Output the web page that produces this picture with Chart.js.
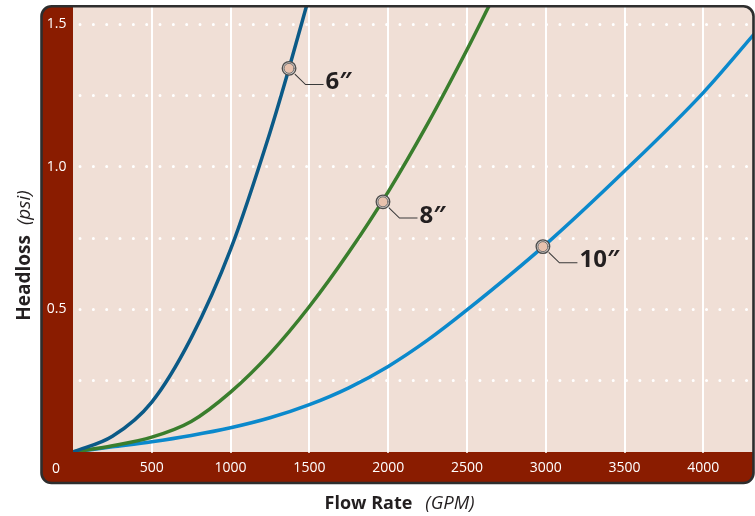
<!DOCTYPE html>
<html>
<head>
<meta charset="utf-8">
<title>Headloss vs Flow Rate</title>
<script src="https://cdn.jsdelivr.net/npm/chart.js@4.4.1/dist/chart.umd.min.js"></script>
<style>
  html, body { margin: 0; padding: 0; background: #fff; overflow: hidden; }
  #wrap { position: relative; width: 755px; height: 516px; }
</style>
</head>
<body>
<div id="wrap"><canvas id="chart"></canvas></div>
<script>
// flow rate (GPM) -> headloss (psi)
const flow6 = [0, 250, 500, 750, 1000, 1250, 1371, 1500];
const loss6 = [0, 0.055, 0.175, 0.40, 0.71, 1.12, 1.345, 1.60];

const flow8 = [0, 250, 500, 750, 1000, 1250, 1500, 1750, 2000, 2250, 2500, 2650];
const loss8 = [0, 0.022, 0.052, 0.107, 0.21, 0.345, 0.51, 0.70, 0.912, 1.15, 1.41, 1.575];

const flow10 = [0, 250, 500, 750, 1000, 1250, 1500, 1750, 2000, 2250, 2500, 3000, 3500, 4000, 4330];
const loss10 = [0, 0.018, 0.036, 0.058, 0.085, 0.12, 0.166, 0.225, 0.30, 0.392, 0.498, 0.728, 0.985, 1.26, 1.47];

// callout markers on each curve
const markerNames = ['6″', '8″', '10″'];
const markerFlow = [1371, 1967, 2982];
const markerLoss = [1.345, 0.877, 0.72];

// axis range and ticks
const flowMax = 4315;
const flowTicks = [0, 500, 1000, 1500, 2000, 2500, 3000, 3500, 4000];
const lossMax = 1.56;
const lossStep = 0.25;

const BAND = '#8a1c00';
const PLOT_BG = '#f0dfd6';
const INK = '#231f20';
const FONT = "'Open Sans', 'Noto Sans', sans-serif";

const toPoints = (xs, ys) => xs.map((x, i) => ({ x: x, y: ys[i] }));

function framePath(ctx) {
    const x = 41.5, y = 6.3, w = 712, h = 476.7, r = 10;
    ctx.beginPath();
    ctx.moveTo(x + r, y);
    ctx.arcTo(x + w, y, x + w, y + h, r);
    ctx.arcTo(x + w, y + h, x, y + h, r);
    ctx.arcTo(x, y + h, x, y, r);
    ctx.arcTo(x, y, x + w, y, r);
    ctx.closePath();
}

// bold part + gap + italic part, centred on 0 along the current x axis
function drawMixedTitle(ctx, boldText, italicText, boldSize, italicSize, gap) {
    ctx.font = `bold ${boldSize}px ${FONT}`;
    const w1 = ctx.measureText(boldText).width;
    ctx.font = `italic ${italicSize}px ${FONT}`;
    const w2 = ctx.measureText(italicText).width;
    const start = -(w1 + gap + w2) / 2;
    ctx.textAlign = 'left';
    ctx.textBaseline = 'alphabetic';
    ctx.fillStyle = INK;
    ctx.font = `bold ${boldSize}px ${FONT}`;
    ctx.fillText(boldText, start, 0);
    ctx.font = `italic ${italicSize}px ${FONT}`;
    ctx.fillText(italicText, start + w1 + gap, 0);
}

const framePlugin = {
    id: 'frame',
    beforeDraw(chart) {
        const { ctx, chartArea: a } = chart;
        ctx.save();
        framePath(ctx);
        ctx.fillStyle = BAND;
        ctx.fill();
        ctx.clip();
        ctx.fillStyle = PLOT_BG;
        ctx.fillRect(a.left, a.top - 3, a.right - a.left + 6, a.bottom - a.top + 3);
        ctx.restore();
        // round caps turn the dashed y grid into dots
        ctx.lineCap = 'round';
    },
    afterDatasetsDraw(chart) {
        const { ctx } = chart;
        const xs = chart.scales.x, ys = chart.scales.y;
        ctx.save();
        ctx.lineCap = 'butt';
        markerNames.forEach((name, i) => {
            const cx = xs.getPixelForValue(markerFlow[i]);
            const cy = ys.getPixelForValue(markerLoss[i]);
            ctx.beginPath();
            ctx.moveTo(cx + 5.8, cy + 5.8);
            ctx.lineTo(cx + 16.5, cy + 16.2);
            ctx.lineTo(cx + 34.5, cy + 16.2);
            ctx.strokeStyle = '#3a3a3a';
            ctx.lineWidth = 1.1;
            ctx.stroke();
            ctx.font = `bold 24px ${FONT}`;
            ctx.fillStyle = INK;
            ctx.textAlign = 'left';
            ctx.textBaseline = 'middle';
            ctx.fillText(name, cx + 36.5, cy + 14);
        });
        ctx.restore();
    },
    afterDraw(chart) {
        const { ctx } = chart;
        ctx.save();
        framePath(ctx);
        ctx.strokeStyle = '#2e2e2e';
        ctx.lineWidth = 2.6;
        ctx.stroke();

        // corner zero shared by both axes
        ctx.font = `14px ${FONT}`;
        ctx.fillStyle = '#ffffff';
        ctx.textAlign = 'center';
        ctx.textBaseline = 'middle';
        ctx.fillText('0', 56, 469);

        ctx.translate(399.5, 509);
        drawMixedTitle(ctx, 'Flow Rate', '(GPM)', 18, 18.5, 13);
        ctx.setTransform(1, 0, 0, 1, 0, 0);
        ctx.scale(chart.currentDevicePixelRatio, chart.currentDevicePixelRatio);
        ctx.translate(30, 255.5);
        ctx.rotate(-Math.PI / 2);
        drawMixedTitle(ctx, 'Headloss', '(psi)', 19, 19, 10);
        ctx.restore();
    }
};

const lineSet = (label, xs, ys, color) => ({
    type: 'line',
    label: label,
    data: toPoints(xs, ys),
    borderColor: color,
    borderWidth: 3.5,
    pointRadius: 0,
    cubicInterpolationMode: 'monotone',
    clip: 0,
    order: 5
});

const ctx = document.getElementById('chart').getContext('2d');

new Chart(ctx, {
    type: 'line',
    data: {
        datasets: [
            {
                type: 'scatter',
                label: 'marker core',
                data: toPoints(markerFlow, markerLoss),
                pointRadius: 5,
                pointBackgroundColor: '#e8c2ae',
                pointBorderColor: '#707070',
                pointBorderWidth: 1,
                order: 1
            },
            {
                type: 'scatter',
                label: 'marker ring',
                data: toPoints(markerFlow, markerLoss),
                pointRadius: 6.8,
                pointBackgroundColor: '#d3cdca',
                pointBorderColor: '#4d4d4d',
                pointBorderWidth: 1.3,
                order: 2
            },
            lineSet('6″', flow6, loss6, '#0b5a87'),
            lineSet('8″', flow8, loss8, '#3a7e2d'),
            lineSet('10″', flow10, loss10, '#0b89cc')
        ]
    },
    options: {
        responsive: true,
        maintainAspectRatio: false,
        animation: false,
        layout: { autoPadding: false, padding: { left: 41, top: 7, right: 2, bottom: 34 } },
        plugins: {
            legend: { display: false },
            tooltip: { enabled: false }
        },
        scales: {
            x: {
                type: 'linear',
                min: 0,
                max: flowMax,
                border: { display: false },
                grid: {
                    drawTicks: false,
                    lineWidth: 2,
                    color: c => c.tick && c.tick.value === 0 ? 'rgba(0,0,0,0)' : '#ffffff'
                },
                afterBuildTicks(scale) {
                    scale.ticks = flowTicks.map(v => ({ value: v }));
                },
                ticks: {
                    autoSkip: false,
                    padding: 7.5,
                    color: '#ffffff',
                    font: { family: FONT, size: 14 },
                    maxRotation: 0,
                    callback: v => v === 0 ? '' : String(v)
                },
                afterFit(scale) {
                    scale.height = 30;
                    scale.paddingLeft = 0;
                    scale.paddingRight = 0;
                }
            },
            y: {
                type: 'linear',
                min: 0,
                max: lossMax,
                border: { display: false, dash: [0, 13.33], dashOffset: 6.3 },
                grid: {
                    drawTicks: false,
                    lineWidth: 3,
                    color: c => c.tick && c.tick.value === 0 ? 'rgba(0,0,0,0)' : '#ffffff'
                },
                ticks: {
                    stepSize: lossStep,
                    includeBounds: false,
                    padding: 6.5,
                    color: '#ffffff',
                    font: { family: FONT, size: 14 },
                    callback: v => (v > 0 && Math.abs(v * 2 - Math.round(v * 2)) < 1e-6) ? v.toFixed(1) : ''
                },
                afterFit(scale) {
                    scale.width = 32;
                    scale.paddingTop = 0;
                    scale.paddingBottom = 0;
                }
            }
        }
    },
    plugins: [framePlugin]
});
</script>
</body>
</html>
